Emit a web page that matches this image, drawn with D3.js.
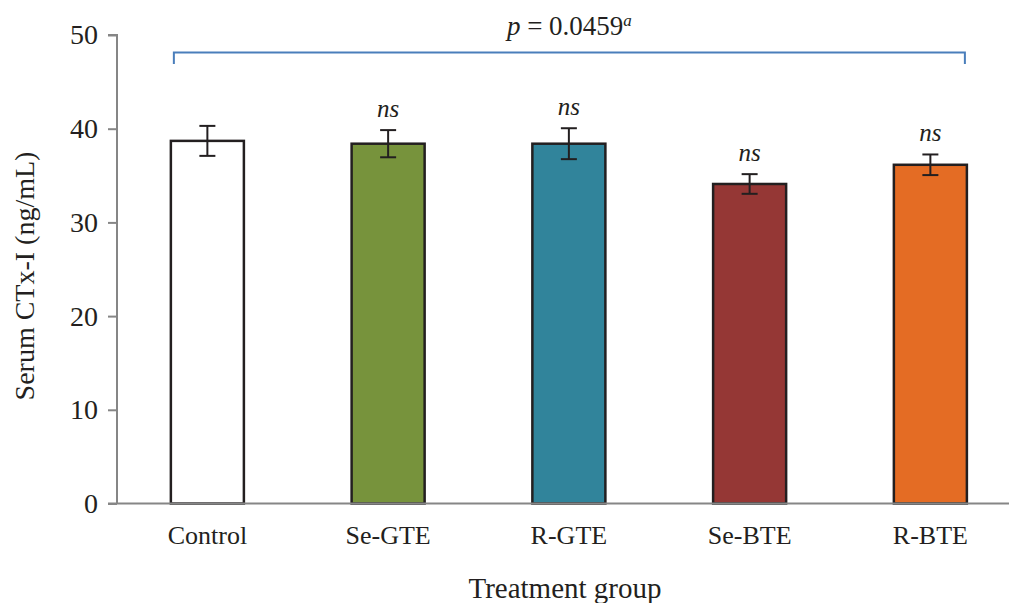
<!DOCTYPE html>
<html><head><meta charset="utf-8">
<script src="https://cdn.jsdelivr.net/npm/d3@7"></script>
<style>body{margin:0;background:#fff}svg, svg text{font-family:"Liberation Serif","Times New Roman",serif !important}</style>
</head><body>
<svg id="c" width="1009" height="603"></svg>
<script>
const categories = ["Control","Se-GTE","R-GTE","Se-BTE","R-BTE"];
const means = [38.7, 38.4, 38.4, 34.1, 36.15];
const errors = [1.6, 1.45, 1.65, 1.05, 1.1];
const labels = ["", "ns", "ns", "ns", "ns"];
const colors = ["#ffffff","#77933c","#31849b","#953735","#e46c24"];
const yTicks = [0,10,20,30,40,50];

const svg = d3.select("#c");
const x0 = 117, yTop = 35, yBot = 503.5;
const x = d3.scaleBand().domain(categories).range([x0, 1020.75]).paddingInner(0.596).paddingOuter(0.298);
const y = d3.scaleLinear().domain([0,50]).range([yBot, yTop]);

// bars
svg.append("g").selectAll("rect").data(categories).join("rect")
  .attr("x", d => x(d)).attr("width", x.bandwidth())
  .attr("y", (d,i) => y(means[i])).attr("height", (d,i) => y(0) - y(means[i]))
  .attr("fill", (d,i) => colors[i]).attr("stroke", "#231f20").attr("stroke-width", 2.5);

// error bars
const eg = svg.append("g").attr("stroke", "#231f20").attr("stroke-width", 2);
categories.forEach((c,i) => {
  const cx = x(c) + x.bandwidth()/2;
  eg.append("line").attr("x1", cx).attr("x2", cx).attr("y1", y(means[i]+errors[i])).attr("y2", y(means[i]-errors[i]));
  eg.append("line").attr("x1", cx-8).attr("x2", cx+8).attr("y1", y(means[i]+errors[i])).attr("y2", y(means[i]+errors[i]));
  eg.append("line").attr("x1", cx-8).attr("x2", cx+8).attr("y1", y(means[i]-errors[i])).attr("y2", y(means[i]-errors[i]));
});

// ns labels
svg.append("g").selectAll("text").data(categories).join("text")
  .attr("x", d => x(d) + x.bandwidth()/2)
  .attr("y", (d,i) => y(means[i]+errors[i]) - 13)
  .attr("text-anchor", "middle").attr("font-style", "italic").attr("font-size", 25).attr("fill", "#231f20")
  .text((d,i) => labels[i]);

// y axis
const yAxis = d3.axisLeft(y).tickValues(yTicks).tickSize(9).tickPadding(10);
const ga = svg.append("g").attr("transform", `translate(${x0},0)`).call(yAxis);
ga.attr("font-family", null).attr("font-size", null);
ga.select(".domain").attr("stroke", "#868686").attr("stroke-width", 2).attr("d", `M-9,${yTop}H0V${yBot}`);
ga.selectAll(".tick line").attr("stroke", "#868686").attr("stroke-width", 2);
ga.selectAll(".tick text").attr("font-size", 28).attr("fill", "#231f20");

// x axis
const xAxis = d3.axisBottom(x).tickSize(0).tickPadding(22);
const gx = svg.append("g").attr("transform", `translate(0,${yBot})`).call(xAxis);
gx.attr("font-family", null).attr("font-size", null);
gx.select(".domain").attr("stroke", "#868686").attr("stroke-width", 2).attr("d", `M${x0-9},0H1009`);
gx.selectAll(".tick text").attr("font-size", 26).attr("fill", "#231f20");

// axis titles
svg.append("text").attr("x", 565).attr("y", 598).attr("text-anchor", "middle").attr("font-size", 29).attr("fill", "#231f20").text("Treatment group");
svg.append("text").attr("transform", "translate(34,276) rotate(-90)").attr("text-anchor", "middle").attr("font-size", 28).attr("fill", "#231f20").text("Serum CTx-I (ng/mL)");

// bracket
const bx1 = x(categories[0]) + 3, bx2 = x(categories[4]) + x.bandwidth() - 2;
svg.append("path").attr("d", `M${bx1},64V52.5H${bx2}V64`).attr("fill", "none").attr("stroke", "#4a7ebb").attr("stroke-width", 2);
const pt = svg.append("text").attr("x", (bx1+bx2)/2).attr("y", 35).attr("text-anchor", "middle").attr("font-size", 27).attr("fill", "#231f20");
pt.append("tspan").attr("font-style", "italic").text("p");
pt.append("tspan").text(" = 0.0459");
pt.append("tspan").attr("font-style", "italic").attr("font-size", 17).attr("dy", -9).text("a");
</script>
</body></html>
